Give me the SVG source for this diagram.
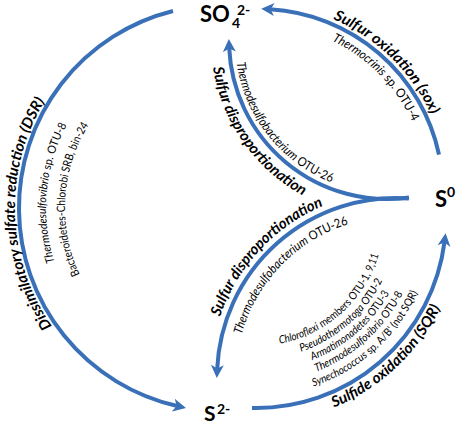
<svg xmlns="http://www.w3.org/2000/svg" width="459" height="424" viewBox="0 0 459 424">
<style>
.arc{fill:none;stroke:#3a70b8;stroke-width:4;marker-end:url(#ah)}
.bl{font-family:Lato,"Open Sans",sans-serif;font-weight:700;font-style:italic;font-size:15px;fill:#000}
.sm{font-family:Lato,"Open Sans",sans-serif;font-size:11.5px;fill:#000}
.it{font-style:italic}
.node{font-family:Lato,"Open Sans",sans-serif;font-weight:700;fill:#000}
</style>
<defs>
<marker id="ah" markerUnits="userSpaceOnUse" markerWidth="16" markerHeight="16" viewBox="0 -8 16 16" refX="4" refY="0" orient="auto">
<path d="M0,-6.5 L13,0 L0,6.5 L3.5,0 Z" fill="#3a70b8"/>
</marker>
<path id="pDsrB" d="M88.9,366.6 A207,207 0 0,1 118.5,28.7"/>
<path id="pDsr1" d="M87.2,321.1 A176,176 0 0,1 134,55.6"/>
<path id="pDsr2" d="M101.7,308.9 A157,157 0 0,1 143.5,72"/>
<path id="pSoxB" d="M226.2,6.9 A189,189 0 0,1 448,193"/>
<path id="pSox1" d="M229.7,26.6 A169,169 0 0,1 428,193"/>
<path id="pUdB" d="M211.7,25.7 A176,176 0 0,0 356.4,214.3"/>
<path id="pUd1" d="M235.6,27.8 A152,152 0 0,0 360.6,190.7"/>
<path id="pLdB" d="M212.8,344.7 A186,186 0 0,1 428.3,193.8"/>
<path id="pLd1" d="M238.4,349.2 A160,160 0 0,1 423.8,219.4"/>
<path id="pSqrB" d="M238.1,422.2 A205,205 0 0,0 460.2,200.1"/>
<path id="pSq1" d="M244.8,345.5 A128,128 0 0,0 383.5,206.8"/>
<path id="pSq2" d="M243.7,358.5 A141,141 0 0,0 396.5,205.7"/>
<path id="pSq3" d="M242.7,370.4 A153,153 0 0,0 408.4,204.7"/>
<path id="pSq4" d="M241.6,382.4 A165,165 0 0,0 420.4,203.6"/>
<path id="pSq5" d="M240.5,395.3 A178,178 0 0,0 433.3,202.5"/>
</defs>

<g id="connectors">
<path id="dsr" class="arc" d="M173,11 A203,203 0 0,0 177.2,406"/>
<path id="sox" class="arc" d="M439,154.7 A184,184 0 0,0 270.2,9.3"/>
<path id="disp-up" class="arc" d="M409,197.5 A158,158 0 0,1 229.2,47.9"/>
<path id="disp-down" class="arc" d="M408.8,198.5 A179,179 0 0,0 217.2,368.9"/>
<path id="sqr" class="arc" d="M252,408 A190,190 0 0,0 444.5,242.1"/>

<text class="bl"><textPath href="#pDsrB" startOffset="55" textLength="238" lengthAdjust="spacingAndGlyphs">Dissimilatory sulfate reduction (DSR)</textPath></text>
<text class="sm"><textPath href="#pDsr1" startOffset="68" textLength="141" lengthAdjust="spacingAndGlyphs"><tspan class="it">Thermodesulfovibrio</tspan> sp. OTU-8</textPath></text>
<text class="sm"><textPath href="#pDsr2" startOffset="41" textLength="156" lengthAdjust="spacingAndGlyphs">Bacteroidetes-Chlorobi SRB, bin-24</textPath></text>

<text class="bl"><textPath href="#pSoxB" startOffset="109" textLength="140" lengthAdjust="spacingAndGlyphs">Sulfur oxidation (sox)</textPath></text>
<text class="sm" style="font-size:12.5px"><textPath href="#pSox1" startOffset="105" textLength="116" lengthAdjust="spacingAndGlyphs"><tspan class="it">Thermocrinis</tspan> sp. OTU-4</textPath></text>

<text class="bl"><textPath href="#pUdB" startOffset="42" textLength="162" lengthAdjust="spacingAndGlyphs">Sulfur disproportionation</textPath></text>
<text class="sm" style="font-size:12.5px"><textPath href="#pUd1" startOffset="35" textLength="160" lengthAdjust="spacingAndGlyphs"><tspan class="it">Thermodesulfobacterium</tspan> OTU-26</textPath></text>

<text class="bl"><textPath href="#pLdB" startOffset="29" textLength="156" lengthAdjust="spacingAndGlyphs">Sulfur disproportionation</textPath></text>
<text class="sm" style="font-size:12.5px"><textPath href="#pLd1" startOffset="15" textLength="160" lengthAdjust="spacingAndGlyphs"><tspan class="it">Thermodesulfobacterium</tspan> OTU-26</textPath></text>

<text class="bl"><textPath href="#pSqrB" startOffset="98" textLength="149" lengthAdjust="spacingAndGlyphs">Sulfide oxidation (SQR)</textPath></text>
<text class="sm" style="font-size:11px"><textPath href="#pSq1" startOffset="35" textLength="140" lengthAdjust="spacingAndGlyphs"><tspan class="it">Chloroflexi</tspan> members OTU-1, 9,11</textPath></text>
<text class="sm" style="font-size:11px"><textPath href="#pSq2" startOffset="58" textLength="111" lengthAdjust="spacingAndGlyphs"><tspan class="it">Pseudothermotoga</tspan> OTU-2</textPath></text>
<text class="sm" style="font-size:11px"><textPath href="#pSq3" startOffset="71" textLength="104" lengthAdjust="spacingAndGlyphs"><tspan class="it">Armatimonadetes</tspan> OTU-3</textPath></text>
<text class="sm" style="font-size:11px"><textPath href="#pSq4" startOffset="76" textLength="119" lengthAdjust="spacingAndGlyphs"><tspan class="it">Thermodesulfovibrio</tspan> OTU-8</textPath></text>
<text class="sm" style="font-size:11px"><textPath href="#pSq5" startOffset="74" textLength="144" lengthAdjust="spacingAndGlyphs"><tspan class="it">Synechococcus</tspan> sp. A/B' (not SQR)</textPath></text>
</g>

<g id="node-so4">
<text class="node" x="200" y="22" font-size="22">SO</text>
<text class="node" x="232" y="28" font-size="14">4</text>
<text class="node" x="237" y="15" font-size="14">2-</text>
</g>
<g id="node-s0">
<text class="node" x="435" y="207" font-size="22">S</text>
<text class="node" x="447" y="197" font-size="14">0</text>
</g>
<g id="node-s2">
<text class="node" x="204" y="421" font-size="21">S</text>
<text class="node" x="217" y="414" font-size="14">2-</text>
</g>
</svg>
